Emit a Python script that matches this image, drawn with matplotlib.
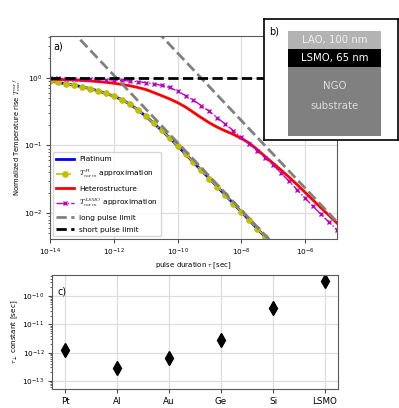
import numpy as np
import matplotlib
matplotlib.use("Agg")
import matplotlib.pyplot as plt
from matplotlib.ticker import NullLocator
from matplotlib.patches import Rectangle

plt.rcParams['mathtext.fontset'] = 'cm'
plt.rcParams['font.family'] = ['DejaVu Sans']

# pulse durations (log10 of tau, quarter decades)
log_tau = [-14.0, -13.75, -13.5, -13.25, -13.0, -12.75, -12.5, -12.25, -12.0,
           -11.75, -11.5, -11.25, -11.0, -10.75, -10.5, -10.25, -10.0, -9.75,
           -9.5, -9.25, -9.0, -8.75, -8.5, -8.25, -8.0, -7.75, -7.5, -7.25,
           -7.0, -6.75, -6.5, -6.25, -6.0, -5.75, -5.5, -5.25, -5.0]

# platinum normalized temperature rise (up to 1e-7 s)
pt_curve = [0.904, 0.859, 0.820, 0.783, 0.741, 0.695, 0.646, 0.594, 0.537,
            0.479, 0.412, 0.339, 0.272, 0.214, 0.168, 0.130, 0.0989, 0.0745,
            0.0562, 0.0427, 0.0324, 0.0244, 0.0184, 0.0138, 0.0104, 0.0078,
            0.00586, 0.00440, 0.00330]

# heterostructure, log10 of normalized temperature rise
hetero_log = [-0.018, -0.021, -0.025, -0.030, -0.036, -0.044, -0.053, -0.064, -0.078,
              -0.095, -0.115, -0.140, -0.170, -0.215, -0.262, -0.310, -0.365, -0.430,
              -0.510, -0.590, -0.665, -0.730, -0.785, -0.835, -0.895, -0.965, -1.060,
              -1.165, -1.265, -1.365, -1.470, -1.580, -1.695, -1.810, -1.925, -2.035,
              -2.150]

# LSMO approximation, log10 of normalized temperature rise
lsmo_log = [-0.004, -0.006, -0.008, -0.010, -0.013, -0.016, -0.020, -0.025, -0.030,
            -0.037, -0.045, -0.055, -0.068, -0.085, -0.110, -0.140, -0.195, -0.260,
            -0.330, -0.410, -0.495, -0.590, -0.685, -0.780, -0.875, -0.975, -1.075,
            -1.180, -1.290, -1.410, -1.530, -1.655, -1.780, -1.900, -2.020, -2.135,
            -2.250]

# limits (end points)
limit_tau = [1e-14, 1e-5]
pt_long = [11.0, 3.5e-4]
lsmo_long = [235.0, 7.4e-3]
short_limit = [1.0, 1.0]

# panel c
materials = ['Pt', 'Al', 'Au', 'Ge', 'Si', 'LSMO']
tau_perp = [1.2e-12, 2.9e-13, 6.5e-13, 2.9e-12, 3.7e-11, 3.4e-10]

tau = 10.0 ** np.array(log_tau)
tau_pt = tau[:len(pt_curve)]
hetero = 10.0 ** np.array(hetero_log)
lsmo = 10.0 ** np.array(lsmo_log)

fig = plt.figure(figsize=(3.99, 4.08), dpi=100)

# ---- panel a
ax = fig.add_axes([0.1253, 0.4142, 0.7193, 0.4976])
ax.loglog(tau_pt, pt_curve, color='blue', lw=2, label='Platinum')
ax.loglog(tau_pt, pt_curve, color='y', ls='-.', lw=1.2, marker='o', ms=3.8,
          label=r'$T^{Pt}_{norm}$ approximation')
ax.loglog(tau, hetero, color='red', lw=2, label='Heterostructure')
ax.loglog(tau, lsmo, color='m', ls='-.', lw=1, marker='x', ms=2.5,
          label=r'$T^{LSMO}_{norm}$ approximation')
ax.loglog(limit_tau, pt_long, color='gray', ls='--', lw=2, label='long pulse limit')
ax.loglog(limit_tau, lsmo_long, color='gray', ls='--', lw=2)
ax.loglog(limit_tau, short_limit, color='black', ls='--', lw=2, label='short pulse limit')

ax.set_xlim(1e-14, 1e-5)
ax.set_ylim(4.12e-3, 4.19)
ax.set_xticks([1e-14, 1e-12, 1e-10, 1e-8, 1e-6])
ax.xaxis.set_minor_locator(NullLocator())
ax.grid(True, which='major', color='#dddddd', lw=0.9)
ax.set_axisbelow(True)
ax.tick_params(labelsize=5.3, length=3, width=0.8, color='0.3', pad=2.5)
ax.tick_params(which='minor', length=1.8, width=0.6, color='0.3')
for s in ax.spines.values():
    s.set_color('0.35')
ax.set_xlabel(r'pulse duration $\tau$ [sec]', fontsize=5, labelpad=2)
ax.set_ylabel(r'Normalized Temperature rise $T^{surf}_{max}$', fontsize=4.9, labelpad=0.5)
ax.text(0.012, 0.975, 'a)', transform=ax.transAxes, fontsize=7, va='top')
ax.legend(loc='lower left', fontsize=5.3, handlelength=2.4, labelspacing=0.75,
          borderaxespad=0.35, borderpad=0.5, handletextpad=0.7)

# ---- panel b (layer sketch)
axb = fig.add_axes([0.6617, 0.6569, 0.3358, 0.2966])
axb.set_xlim(0, 1)
axb.set_ylim(0, 1)
axb.set_xticks([])
axb.set_yticks([])
for s in axb.spines.values():
    s.set_color('black')
    s.set_linewidth(1.2)
axb.add_patch(Rectangle((0.179, 0.752), 0.694, 0.149, color='#b3b3b3', lw=0))
axb.add_patch(Rectangle((0.179, 0.603), 0.694, 0.149, color='black', lw=0))
axb.add_patch(Rectangle((0.179, 0.033), 0.694, 0.570, color='#808080', lw=0))
axb.text(0.526, 0.826, 'LAO, 100 nm', color='#f0f0f0', fontsize=7.3, ha='center', va='center')
axb.text(0.526, 0.678, 'LSMO, 65 nm', color='white', fontsize=7.3, ha='center', va='center')
axb.text(0.526, 0.446, 'NGO', color='#dddddd', fontsize=7.3, ha='center', va='center')
axb.text(0.526, 0.283, 'substrate', color='#dddddd', fontsize=7.3, ha='center', va='center')
axb.text(0.04, 0.94, 'b)', fontsize=7, va='top')

# ---- panel c
axc = fig.add_axes([0.1303, 0.0466, 0.7168, 0.2794])
axc.semilogy(range(len(materials)), tau_perp, 'kd', ms=7, ls='none')
axc.set_xlim(-0.25, 5.25)
axc.set_ylim(5.2e-14, 5.5e-10)
axc.set_xticks(range(len(materials)))
axc.set_xticklabels(materials)
axc.set_yticks([1e-13, 1e-12, 1e-11, 1e-10])
axc.grid(True, which='major', color='#dddddd', lw=0.9)
axc.set_axisbelow(True)
axc.tick_params(axis='x', labelsize=6.3, length=3, color='0.3', pad=2.5)
axc.tick_params(axis='y', labelsize=5.3, length=3, color='0.3', pad=2.5)
axc.tick_params(which='minor', length=1.8, width=0.6, color='0.3')
for s in axc.spines.values():
    s.set_color('0.35')
axc.set_ylabel(r'$\tau_\perp$ constant [sec]', fontsize=5.2, labelpad=1.5)
axc.text(0.02, 0.9, 'c)', transform=axc.transAxes, fontsize=7, va='top')

fig.savefig('out.png', dpi=100)
